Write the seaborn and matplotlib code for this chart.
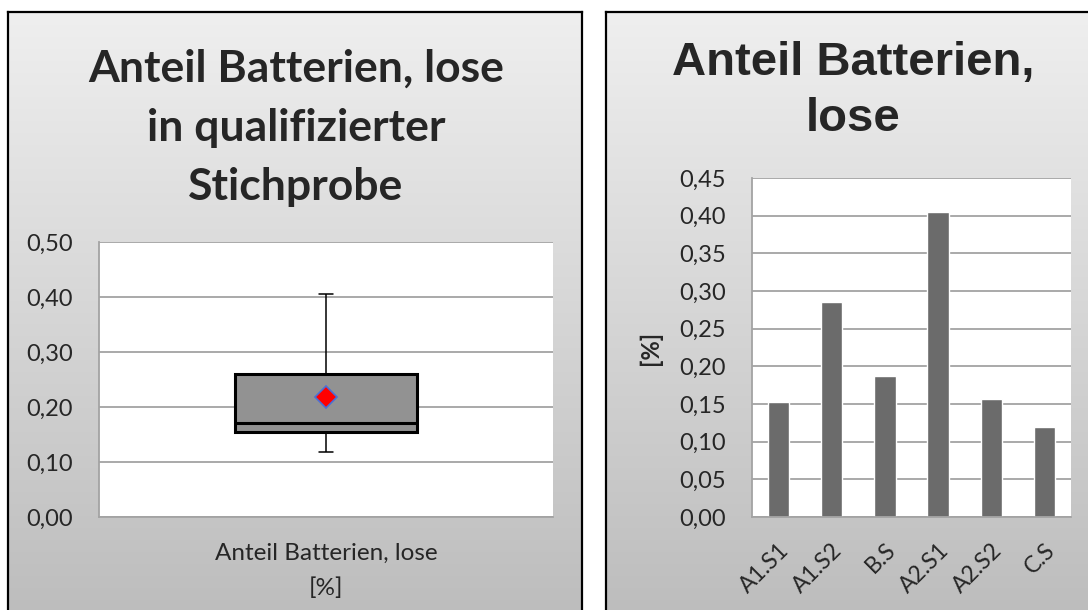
import numpy as np
import pandas as pd
import matplotlib
matplotlib.use('Agg')
import matplotlib.pyplot as plt
import seaborn as sns
from matplotlib.ticker import FixedLocator

# Daten
kategorien = ["A1.S1", "A1.S2", "B.S", "A2.S1", "A2.S2", "C.S"]
anteil_lose = [0.153, 0.285, 0.187, 0.405, 0.156, 0.119]
y_ticks_links = [0.0, 0.1, 0.2, 0.3, 0.4, 0.5]
y_ticks_rechts = [0.0, 0.05, 0.10, 0.15, 0.20, 0.25, 0.30, 0.35, 0.40, 0.45]

df = pd.DataFrame({"kategorie": kategorien, "anteil": anteil_lose})

sns.set_style("white")
plt.rcParams['font.family'] = ['Lato', 'DejaVu Sans']

W, H = 1088, 610
fig = plt.figure(figsize=(W / 100, H / 100), dpi=100)
fig.patch.set_facecolor('white')


def px(x0, y0, x1, y1):
    # Pixel-Rechteck -> Figure-Koordinaten
    return [x0 / W, 1 - y1 / H, (x1 - x0) / W, (y1 - y0) / H]


def panel(rect):
    bg = fig.add_axes(rect, zorder=0)
    grad = np.linspace(0, 1, 256).reshape(-1, 1)
    bg.imshow(grad, aspect='auto', cmap=matplotlib.colors.LinearSegmentedColormap.from_list(
        'g', ['#efefef', '#bcbcbc']), extent=[0, 1, 0, 1], origin='upper')
    bg.set_xticks([])
    bg.set_yticks([])
    for s in bg.spines.values():
        s.set_color('black')
        s.set_linewidth(1.6)
    return bg


def style_axis(ax):
    ax.set_facecolor('white')
    ax.yaxis.grid(True, color='#a3a3a3', linewidth=1.3)
    ax.set_axisbelow(True)
    for s in ['top', 'right']:
        ax.spines[s].set_visible(False)
    for s in ['left', 'bottom']:
        ax.spines[s].set_color('#a3a3a3')
        ax.spines[s].set_linewidth(1.3)
    ax.tick_params(axis='y', length=6, color='#a3a3a3', width=1.3, labelsize=17, pad=13)
    ax.tick_params(axis='x', which='both', color='#a3a3a3', width=1.3)


# ---------- linkes Diagramm: Boxplot ----------
panel(px(8, 12, 582, 625))
ax1 = fig.add_axes(px(99, 242, 553, 517), zorder=2)
style_axis(ax1)
sns.boxplot(y=df["anteil"], ax=ax1, width=0.4, whis=(0, 100), showmeans=True,
            color='#929292', linecolor='black', linewidth=2.2,
            whiskerprops=dict(linewidth=1.1), capprops=dict(linewidth=1.1),
            meanprops=dict(marker='D', markerfacecolor='red', markeredgecolor='#4a6fd6',
                           markersize=11, markeredgewidth=1.2))
# kurze Whisker-Enden wie im Original
lo, hi = min(anteil_lose), max(anteil_lose)
for ln in ax1.lines:
    yd = np.asarray(ln.get_ydata(), dtype=float)
    if len(yd) == 2 and yd[0] == yd[1] and (np.isclose(yd[0], lo) or np.isclose(yd[0], hi)):
        ln.set_xdata([-0.016, 0.016])
ax1.set_xlim(-0.5, 0.5)
ax1.set_ylim(0, 0.5)
ax1.yaxis.set_major_locator(FixedLocator(y_ticks_links))
ax1.set_yticklabels([f"{v:.2f}".replace('.', ',') for v in y_ticks_links])
ax1.set_xticks([-0.5, 0.5])
ax1.set_xticklabels(['', ''])
ax1.tick_params(axis='x', length=6)
ax1.set_ylabel('')
ax1.set_xlabel("Anteil Batterien, lose\n[%]", fontsize=17.5, labelpad=9, linespacing=1.75)
fig.text(296 / W, 1 - 128 / H, "Anteil Batterien, lose\nin qualifizierter\nStichprobe",
         ha='center', va='center', fontsize=32, fontweight='bold', linespacing=1.58)

# ---------- rechtes Diagramm: Balken ----------
panel(px(606, 12, 1100, 625))
ax2 = fig.add_axes(px(752, 178, 1071, 517), zorder=2)
style_axis(ax2)
sns.barplot(data=df, x="kategorie", y="anteil", ax=ax2, color='#6b6b6b',
            width=0.4, saturation=1, errorbar=None)
ax2.set_xlim(-0.5, len(kategorien) - 0.5)
ax2.set_ylim(0, 0.45)
ax2.yaxis.set_major_locator(FixedLocator(y_ticks_rechts))
ax2.set_yticklabels([f"{v:.2f}".replace('.', ',') for v in y_ticks_rechts])
ax2.set_xticks(np.arange(-0.5, len(kategorien), 1.0), minor=True)
ax2.tick_params(axis='x', which='minor', length=6)
ax2.tick_params(axis='x', which='major', length=0, labelsize=16.5, pad=16)
plt.setp(ax2.get_xticklabels(), rotation=45, ha='right', rotation_mode='anchor')
ax2.set_xlabel('')
ax2.set_ylabel('[%]', fontsize=17, fontweight='bold', labelpad=12)
fig.text(853 / W, 1 - 91 / H, "Anteil Batterien,\nlose", ha='center', va='center',
         fontsize=34, fontweight='bold', family=['Liberation Sans', 'DejaVu Sans'],
         linespacing=1.38)

fig.savefig('out.png', dpi=100, facecolor='white')
